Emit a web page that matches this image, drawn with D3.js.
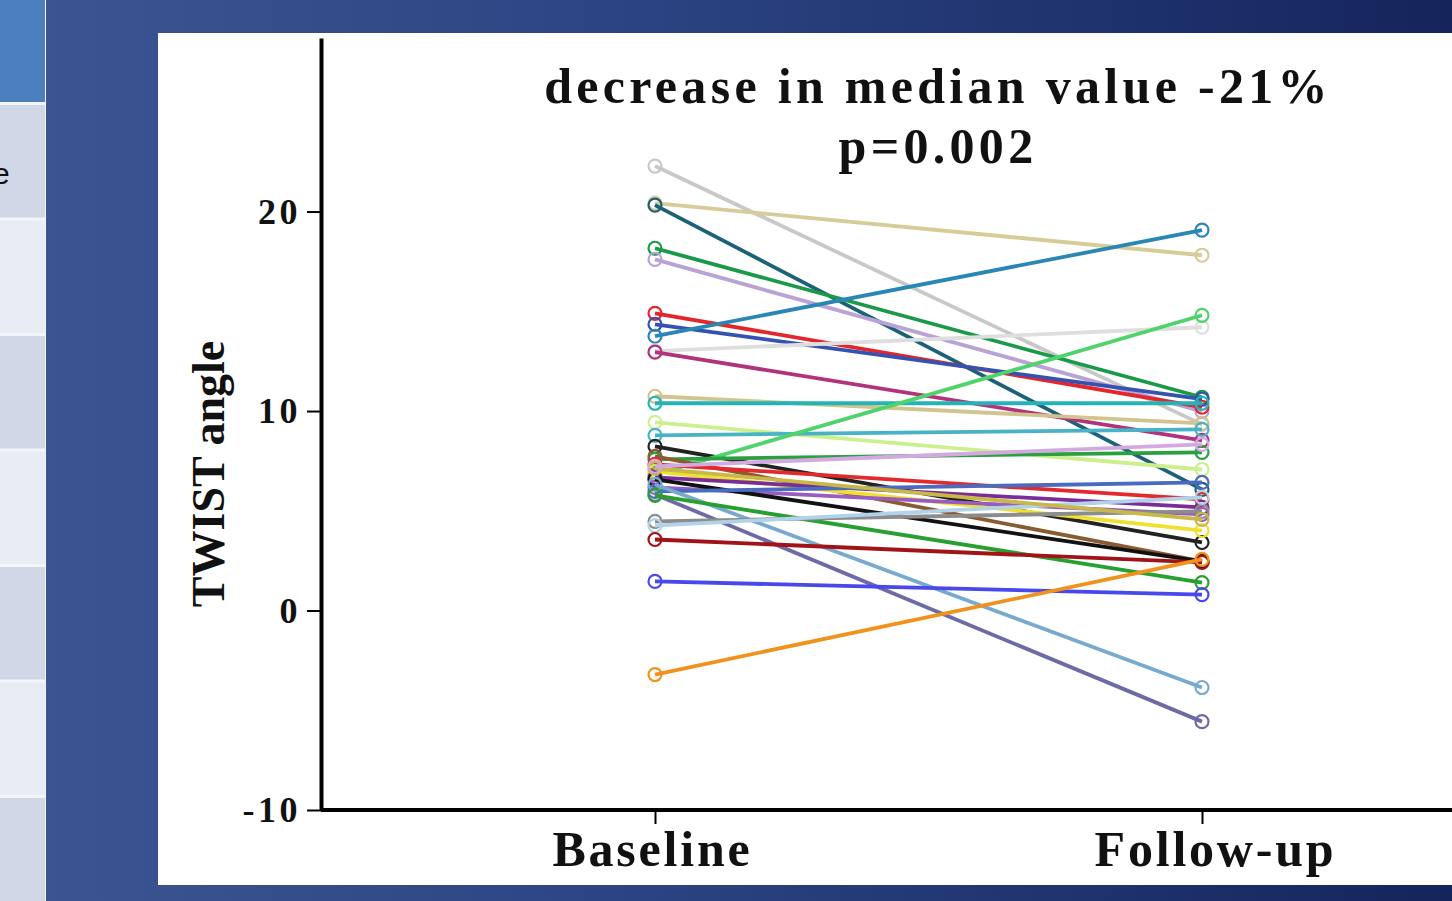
<!DOCTYPE html>
<html>
<head>
<meta charset="utf-8">
<script src="https://cdn.jsdelivr.net/npm/d3@7"></script>
<style>
  html, body { margin: 0; padding: 0; background: #2c447f; }
  svg { display: block; }
</style>
</head>
<body>
<script>
const W = 1452;
const H = 901;

// Time points and axis ticks
const timePoints = ["Baseline", "Follow-up"];
const yTicks = [-10, 0, 10, 20];

// TWIST angle per patient
const baseline = [22.28, 20.42, 20.32, 18.16, 17.6, 14.9, 14.35, 13.75, 13.0, 12.95,
  10.74, 10.39, 9.43, 8.78, 8.23, 6.82, 7.58, 7.73, 7.33, 6.97,
  6.67, 6.17, 6.57, 5.97, 5.82, 6.32, 5.77, 4.47, 4.26, 3.56,
  1.46, -3.21, 7.12, 7.23];
const followUp = [9.33, 17.81, 6.07, 10.69, 9.98, 10.19, 10.6, 19.07, 14.2, 8.53,
  9.38, 10.39, 7.07, 9.08, 3.41, 14.8, 7.93, 2.46, 5.57, 4.01,
  5.17, 4.82, 2.46, 6.42, -5.57, -3.86, 1.4, 4.97, 5.67, 2.41,
  0.8, 2.56, 4.57, 8.33];
const palette = ["#c8c8c8", "#d6cc98", "#1d6178", "#1a9a48", "#b9a2d6", "#e3262b", "#3552b0", "#2a86b4", "#dedede", "#b2337c",
  "#d2c48e", "#25b3b6", "#cdf08e", "#48b2c6", "#222222", "#4fd36b", "#2aa040", "#8a5a30", "#e4292c", "#f0e030",
  "#7a2c98", "#9a5cc0", "#111111", "#4a6cc0", "#6d6aa6", "#78aad0", "#28a030", "#8c8c8c", "#b2d2ea", "#a01418",
  "#4848ec", "#f0921c", "#c8b848", "#d4a8e0"];

const patients = baseline.map((b, i) => ({ values: [b, followUp[i]], color: palette[i] }));

const svg = d3.select("body").append("svg")
  .attr("width", W)
  .attr("height", H);

// slide background
const grad = svg.append("defs").append("linearGradient")
  .attr("id", "bg")
  .attr("x1", "0").attr("x2", "1").attr("y1", "0").attr("y2", "0");
grad.append("stop").attr("offset", "0%").attr("stop-color", "#3c5693");
grad.append("stop").attr("offset", "45%").attr("stop-color", "#2b4382");
grad.append("stop").attr("offset", "100%").attr("stop-color", "#14255b");

svg.append("rect").attr("width", W).attr("height", H).attr("fill", "url(#bg)");

// table strip on the left
svg.append("rect").attr("x", 0).attr("y", 0).attr("width", 46).attr("height", H).attr("fill", "#f3f5f9");
svg.append("rect").attr("x", 0).attr("y", 0).attr("width", 45).attr("height", 102).attr("fill", "#4b7fbd");
d3.range(7).forEach(i => {
  svg.append("rect")
    .attr("x", 0).attr("y", 105 + i * 115.5)
    .attr("width", 45).attr("height", 112.5)
    .attr("fill", i % 2 === 0 ? "#d0d8e7" : "#e8ecf4");
});
svg.append("text")
  .attr("x", -7).attr("y", 184)
  .attr("font-family", "Liberation Sans, Arial, sans-serif")
  .attr("font-size", 30)
  .attr("fill", "#111")
  .text("e");

// white plot panel
svg.append("rect").attr("x", 158).attr("y", 33).attr("width", W - 158).attr("height", 852).attr("fill", "#ffffff");

const serif = "Liberation Serif, Times New Roman, serif";

const x = d3.scalePoint().domain(timePoints).range([655, 1202]);
const y = d3.scaleLinear().domain([-10, 28.7]).range([810, 38]);

// y axis
const yAxis = d3.axisLeft(y)
  .tickValues(yTicks)
  .tickFormat(d => String(d))
  .tickSize(14).tickSizeOuter(0).tickPadding(6);
const gy = svg.append("g").attr("transform", "translate(321,0)").call(yAxis);
gy.select(".domain").attr("stroke", "#000").attr("stroke-width", 4);
gy.selectAll(".tick line").attr("stroke", "#000").attr("stroke-width", 2);
gy.selectAll(".tick text")
  .attr("font-family", serif)
  .attr("font-weight", "bold")
  .attr("font-size", 36)
  .attr("fill", "#111")
  .attr("letter-spacing", 3.5);

// x axis
svg.append("line")
  .attr("x1", 321).attr("x2", W)
  .attr("y1", 810).attr("y2", 810)
  .attr("stroke", "#000").attr("stroke-width", 4);
const xAxis = d3.axisBottom(x).tickSize(14).tickSizeOuter(0).tickPadding(6);
const gx = svg.append("g").attr("transform", "translate(0,810)").call(xAxis);
gx.select(".domain").remove();
gx.selectAll(".tick line").attr("stroke", "#000").attr("stroke-width", 2);
gx.selectAll(".tick text")
  .attr("font-family", serif)
  .attr("font-weight", "bold")
  .attr("font-size", 50)
  .attr("fill", "#111")
  .attr("letter-spacing", 2.8);
gx.selectAll(".tick text").filter(d => d === "Baseline").attr("dx", -3);
gx.selectAll(".tick text").filter(d => d === "Follow-up").attr("dx", 13);

// y label
svg.append("text")
  .attr("transform", "translate(224,474) rotate(-90)")
  .attr("text-anchor", "middle")
  .attr("font-family", serif)
  .attr("font-weight", "bold")
  .attr("font-size", 46)
  .attr("fill", "#111")
  .text("TWIST angle");

// paired lines
const line = d3.line()
  .x((d, i) => x(timePoints[i]))
  .y(d => y(d));

const g = svg.append("g");
patients.forEach(p => {
  g.append("path")
    .attr("d", line(p.values))
    .attr("fill", "none")
    .attr("stroke", p.color)
    .attr("stroke-width", 3.8);
  g.selectAll(null)
    .data(p.values)
    .enter()
    .append("circle")
    .attr("cx", (d, i) => x(timePoints[i]))
    .attr("cy", d => y(d))
    .attr("r", 6.5)
    .attr("fill", "none")
    .attr("stroke", p.color)
    .attr("stroke-width", 2.2);
});

// title
const title = svg.append("text")
  .attr("text-anchor", "middle")
  .attr("font-family", serif)
  .attr("font-weight", "bold")
  .attr("font-size", 50)
  .attr("fill", "#111")
  .attr("letter-spacing", 4.3);
title.append("tspan").attr("x", 938).attr("y", 103).text("decrease in median value -21%");
title.append("tspan").attr("x", 938).attr("y", 163).text("p=0.002");
</script>
</body>
</html>
